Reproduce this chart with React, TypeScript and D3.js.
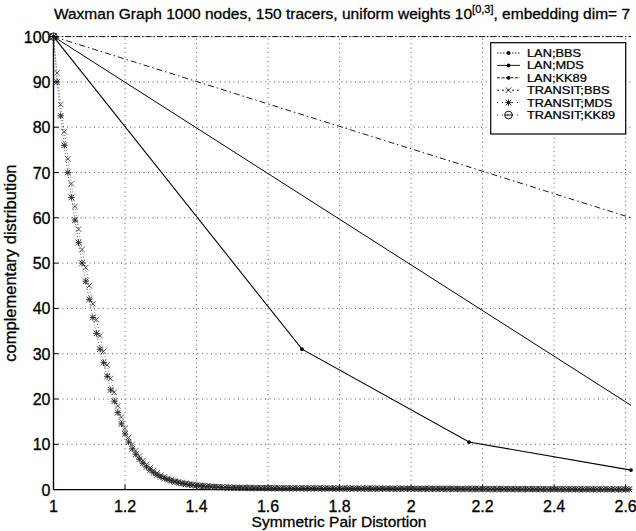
import React from "react";
import * as d3 from "d3";

const W = 636, H = 531;
const FONT = "'Liberation Sans', Arial, Helvetica, sans-serif";

const xTicks = [1, 1.2, 1.4, 1.6, 1.8, 2, 2.2, 2.4, 2.6];
const yTicks = [0, 10, 20, 30, 40, 50, 60, 70, 80, 90, 100];

// LAN series (sparse points)
const lanBbsX = [1, 2.615];
const lanBbsY = [100, 100];
const lanMdsX = [1, 1.695, 2.162, 2.615];
const lanMdsY = [100, 31, 10.5, 4.3];
const lanKkX = [1, 2.615];
const lanKkY = [100, 60];
const diagX = [1, 2.615];
const diagY = [100, 18.6];

// TRANSIT series sampled at distortion 1.00, 1.01, ... 2.61
const transitBbsY = [
  100, 92, 85, 79, 73, 67.5, 62.5, 57.5, 53, 49,
  45, 41, 37.5, 34, 30.5, 27.5, 24.5, 21.5, 18.5, 16,
  13.5, 11.5, 10, 8.6, 7.4, 6.4, 5.5, 4.8, 4.2, 3.7,
  3.2, 2.8, 2.5, 2.2, 1.95, 1.75, 1.55, 1.4, 1.25, 1.12,
  1.0, 0.92, 0.84, 0.77, 0.71, 0.66, 0.61, 0.57, 0.54, 0.51,
  0.48, 0.46, 0.45, 0.44, 0.43, 0.42, 0.41, 0.4, 0.4, 0.39,
  0.38, 0.38, 0.37, 0.37, 0.36, 0.36, 0.35, 0.35, 0.34, 0.34,
  0.34, 0.33, 0.33, 0.33, 0.32, 0.32, 0.32, 0.31, 0.31, 0.31,
  0.3, 0.3, 0.3, 0.3, 0.29, 0.29, 0.29, 0.28, 0.28, 0.28,
  0.28, 0.27, 0.27, 0.27, 0.27, 0.26, 0.26, 0.26, 0.26, 0.25,
  0.25, 0.25, 0.25, 0.24, 0.24, 0.24, 0.24, 0.23, 0.23, 0.23,
  0.23, 0.22, 0.22, 0.22, 0.22, 0.21, 0.21, 0.21, 0.21, 0.2,
  0.2, 0.2, 0.2, 0.19, 0.19, 0.19, 0.19, 0.18, 0.18, 0.18,
  0.18, 0.17, 0.17, 0.17, 0.17, 0.16, 0.16, 0.16, 0.16, 0.15,
  0.15, 0.15, 0.15, 0.14, 0.14, 0.14, 0.14, 0.13, 0.13, 0.13,
  0.13, 0.12, 0.12, 0.12, 0.12, 0.11, 0.11, 0.11, 0.11, 0.1,
  0.1, 0.1,
];
const transitMdsY = [
  100, 90, 82.5, 76, 70, 64.5, 59.5, 54.5, 50, 46,
  42, 38, 34.5, 31, 28, 25, 22, 19.5, 17, 14.5,
  12.3, 10.5, 9, 7.8, 6.7, 5.8, 5, 4.3, 3.7, 3.2,
  2.8, 2.45, 2.15, 1.9, 1.7, 1.5, 1.35, 1.2, 1.08, 0.97,
  0.88, 0.8, 0.73, 0.67, 0.62, 0.57, 0.53, 0.49, 0.46, 0.43,
  0.41, 0.39, 0.37, 0.36, 0.35, 0.34, 0.33, 0.32, 0.31, 0.3,
  0.3, 0.29, 0.29, 0.28, 0.28, 0.27, 0.27, 0.26, 0.26, 0.26,
  0.25, 0.25, 0.25, 0.24, 0.24, 0.24, 0.23, 0.23, 0.23, 0.22,
  0.22, 0.22, 0.22, 0.21, 0.21, 0.21, 0.2, 0.2, 0.2, 0.2,
  0.19, 0.19, 0.19, 0.19, 0.18, 0.18, 0.18, 0.18, 0.17, 0.17,
  0.17, 0.17, 0.16, 0.16, 0.16, 0.16, 0.15, 0.15, 0.15, 0.15,
  0.14, 0.14, 0.14, 0.14, 0.13, 0.13, 0.13, 0.13, 0.12, 0.12,
  0.12, 0.12, 0.11, 0.11, 0.11, 0.11, 0.1, 0.1, 0.1, 0.1,
  0.09, 0.09, 0.09, 0.09, 0.08, 0.08, 0.08, 0.08, 0.07, 0.07,
  0.07, 0.07, 0.06, 0.06, 0.06, 0.06, 0.05, 0.05, 0.05, 0.05,
  0.05, 0.05, 0.05, 0.05, 0.05, 0.05, 0.05, 0.05, 0.05, 0.05,
  0.05, 0.05,
];
const transitKkX = [1];
const transitKkY = [100];

const legendLabels = ["LAN;BBS", "LAN;MDS", "LAN;KK89", "TRANSIT;BBS", "TRANSIT;MDS", "TRANSIT;KK89"];

type Marker = "dot" | "x" | "star" | "circle" | "none";

function MarkerShape({ type, cx, cy, s = 2.8, color = "#000" }: { type: Marker; cx: number; cy: number; s?: number; color?: string }) {
  if (type === "dot") return <circle cx={cx} cy={cy} r={1.9} fill={color} />;
  if (type === "x")
    return (
      <path d={`M${cx - s},${cy - s}L${cx + s},${cy + s}M${cx - s},${cy + s}L${cx + s},${cy - s}`} stroke={color} strokeWidth={0.8} fill="none" />
    );
  if (type === "star") {
    const t = s * 1.15;
    return (
      <path
        d={`M${cx - s},${cy - s}L${cx + s},${cy + s}M${cx - s},${cy + s}L${cx + s},${cy - s}M${cx - t},${cy}L${cx + t},${cy}M${cx},${cy - t}L${cx},${cy + t}`}
        stroke={color}
        strokeWidth={0.9}
        fill="none"
      />
    );
  }
  if (type === "circle")
    return (
      <g>
        <circle cx={cx} cy={cy} r={3.8} fill="none" stroke={color} strokeWidth={0.9} />
        <path d={`M${cx - 3.8},${cy}L${cx + 3.8},${cy}`} stroke={color} strokeWidth={0.9} />
      </g>
    );
  return null;
}

export default function App() {
  const x = d3.scaleLinear().domain([1, 2.615]).range([53.5, 631]);
  const y = d3.scaleLinear().domain([0, 100]).range([489.6, 36.6]);
  const transitX = transitBbsY.map((_, i) => 1 + i * 0.01);

  const line = d3
    .line<[number, number]>()
    .x((d) => x(d[0]))
    .y((d) => y(d[1]));

  const zip = (xs: number[], ys: number[]) => xs.map((v, i) => [v, ys[i]] as [number, number]);

  const series = [
    { pts: zip(lanBbsX, lanBbsY), dash: "6,2,1.5,2", marker: "none" as Marker, w: 0.9, color: "#000" },
    { pts: zip(lanKkX, lanKkY), dash: "6,3,1.5,3", marker: "none" as Marker, w: 0.9, color: "#000" },
    { pts: zip(diagX, diagY), dash: "", marker: "none" as Marker, w: 1.0, color: "#000" },
    { pts: zip(lanMdsX, lanMdsY), dash: "", marker: "dot" as Marker, w: 1.1, color: "#000" },
    { pts: zip(transitX, transitBbsY), dash: "1,2", marker: "x" as Marker, w: 0.7, color: "#333" },
    { pts: zip(transitX, transitMdsY), dash: "1,2", marker: "star" as Marker, w: 0.7, color: "#222" },
    { pts: zip(transitKkX, transitKkY), dash: "", marker: "circle" as Marker, w: 0.8, color: "#000" },
  ];

  const legendStyles: { dash: string; marker: Marker }[] = [
    { dash: "1.5,1.5", marker: "dot" },
    { dash: "", marker: "dot" },
    { dash: "3,1.5", marker: "dot" },
    { dash: "2,3", marker: "x" },
    { dash: "1,4", marker: "star" },
    { dash: "1,4", marker: "circle" },
  ];

  const x0 = x(1), y0 = y(0);
  const thick = { stroke: "#000", strokeWidth: 0.3 };

  return (
    <svg width={W} height={H} style={{ position: "absolute", left: 0, top: 0, background: "#fff" }} fontFamily={FONT}>
      <rect width={W} height={H} fill="#fff" />
      {/* grid */}
      <g stroke="#333" strokeWidth={0.8} strokeDasharray="1,3.5">
        {xTicks.slice(1).map((t) => (
          <line key={"gx" + t} x1={x(t)} x2={x(t)} y1={y(0)} y2={y(100)} />
        ))}
        {yTicks.slice(1).map((t) => (
          <line key={"gy" + t} x1={x(1)} x2={x(2.615)} y1={y(t)} y2={y(t)} />
        ))}
      </g>
      {/* axes */}
      <line x1={x0} x2={x0} y1={y(0)} y2={y(100)} stroke="#000" strokeWidth={1.4} />
      <line x1={x0} x2={x(2.615)} y1={y0} y2={y0} stroke="#000" strokeWidth={1.4} />
      {xTicks.map((t) => (
        <line key={"tx" + t} x1={x(t)} x2={x(t)} y1={y0} y2={y0 - 5} stroke="#000" strokeWidth={1} />
      ))}
      {yTicks.map((t) => (
        <line key={"ty" + t} x1={x0} x2={x0 + 5} y1={y(t)} y2={y(t)} stroke="#000" strokeWidth={1} />
      ))}
      {/* series */}
      {series.map((s, i) => (
        <g key={"s" + i}>
          {s.pts.length > 1 && (
            <path d={line(s.pts) || ""} fill="none" stroke={s.color} strokeWidth={s.w} strokeDasharray={s.dash || undefined} />
          )}
          {s.marker !== "none" &&
            s.pts.map((p, j) => <MarkerShape key={j} type={s.marker} cx={x(p[0])} cy={y(p[1])} color={s.color} />)}
        </g>
      ))}
      {/* tick labels */}
      <g fontSize={16} fill="#000" {...thick}>
        {xTicks.map((t) => (
          <text key={"lx" + t} x={x(t)} y={y0 + 22} textAnchor="middle">
            {String(t)}
          </text>
        ))}
        {yTicks.map((t) => (
          <text key={"ly" + t} x={x0 - 3} y={y(t) + 6} textAnchor="end">
            {String(t)}
          </text>
        ))}
      </g>
      {/* title */}
      <text x={342} y={19} fontSize={15.5} textAnchor="middle" fill="#000" {...thick}>
        Waxman Graph 1000 nodes, 150 tracers, uniform weights 10
        <tspan dy={-6} fontSize={11}>[0,3]</tspan>
        <tspan dy={6}>, embedding dim= 7</tspan>
      </text>
      <text x={339} y={527} fontSize={15.5} textAnchor="middle" fill="#000" {...thick}>
        Symmetric Pair Distortion
      </text>
      <text transform={`translate(16,${y(50)}) rotate(-90)`} fontSize={16.5} textAnchor="middle" fill="#000" {...thick}>
        complementary distribution
      </text>
      {/* legend */}
      <g>
        <rect x={490.7} y={42.7} width={135} height={91.3} fill="#fff" stroke="#000" strokeWidth={1.2} />
        {legendLabels.map((lab, i) => {
          const ly = 53 + i * 12.4;
          const st = legendStyles[i];
          return (
            <g key={lab}>
              <line x1={497} x2={520} y1={ly} y2={ly} stroke="#000" strokeWidth={0.9} strokeDasharray={st.dash || undefined} />
              <MarkerShape type={st.marker} cx={508.5} cy={ly} />
              <text transform={`translate(527,${ly + 4}) scale(1.22,1)`} fontSize={10.5} fill="#000" stroke="#000" strokeWidth={0.25}>
                {lab}
              </text>
            </g>
          );
        })}
      </g>
    </svg>
  );
}
